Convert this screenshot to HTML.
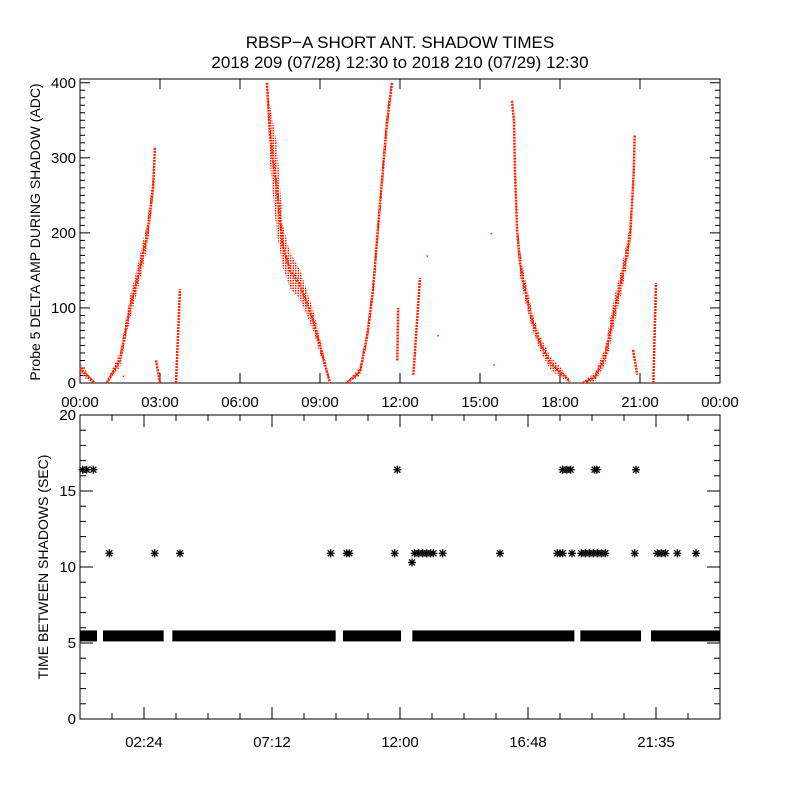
<!DOCTYPE html>
<html><head><meta charset="utf-8"><style>
body{margin:0;background:#fff}
svg text{font-family:"Liberation Sans",sans-serif;fill:#000}
</style></head><body>
<svg id="c" width="800" height="800" xmlns="http://www.w3.org/2000/svg">
<defs><pattern id="dots" width="2.5" height="2.5" patternUnits="userSpaceOnUse"><rect width="1.5" height="1.5" fill="#ff2000"/></pattern></defs>
<rect width="800" height="800" fill="#fff"/>
<text x="400" y="48" font-size="17" text-anchor="middle">RBSP−A SHORT ANT. SHADOW TIMES</text>
<text x="400" y="68" font-size="17" text-anchor="middle">2018 209 (07/28) 12:30 to 2018 210 (07/29) 12:30</text>
<g id="topPanel"></g>
<g id="botPanel"></g>
</svg>
<script>
// top panel series: hours, values, spread (value units)
const arc1H=[1.01,1.5,1.88,2.14,2.51,2.74,2.81], arc1V=[0,31,101,137,195,260,315], arc1S=[3,10,15,17,18,17,6];
const featAH=[0,0.2,0.4,0.55], featAV=[20,12,5,0], featAS=[6,6,3,1];
const seg1H=[2.85,3.0], seg1V=[30,0], seg1S=[2,1];
const spike1H=[3.6,3.75], spike1V=[0,125], spike1S=[1,1];
const arc2H=[7.01,7.125,7.39,7.61,7.875,8.25,8.74,9.11,9.375], arc2V=[400,330,257,182,150,131,84,35,0], arc2S=[2,40,60,28,24,20,14,9,3];
const arc3H=[10.01,10.5,10.76,10.99,11.17,11.36,11.51,11.7], arc3V=[0,15,61,124,204,284,347,400], arc3S=[2,6,10,15,18,18,18,8];
const spike2H=[11.9,11.93], spike2V=[30,100], spike2S=[2,2];
const spike3H=[12.5,12.75], spike3V=[11,140], spike3S=[1,1];
const arc4H=[16.2,16.275,16.31,16.39,16.5,16.69,16.95,17.25,17.63,18.0,18.375], arc4V=[376,348,284,204,160,124,84,53,27,15,2], arc4S=[1,3,8,15,18,15,12,10,9,7,2];
const arc5H=[18.86,19.31,19.69,19.875,20.06,20.25,20.44,20.625,20.7,20.76,20.8], arc5V=[0,8,35,67,100,128,160,195,240,275,330], arc5S=[2,6,12,18,18,17,17,16,16,14,4];
const seg3H=[20.74,20.9], seg3V=[44,11], seg3S=[2,1];
const spike4H=[21.5,21.6], spike4V=[0,133], spike4S=[1,1];
const topSeries=[[featAH,featAV,featAS],[arc1H,arc1V,arc1S],[seg1H,seg1V,seg1S],[spike1H,spike1V,spike1S],[arc2H,arc2V,arc2S],[arc3H,arc3V,arc3S],[spike2H,spike2V,spike2S],[spike3H,spike3V,spike3S],[arc4H,arc4V,arc4S],[arc5H,arc5V,arc5S],[seg3H,seg3V,seg3S],[spike4H,spike4V,spike4S]];
const topStrayH=[1.6,12.55,13.0,13.4,15.5,15.4], topStrayV=[10,40,170,64,25,200];
const topXTicks=["00:00","03:00","06:00","09:00","12:00","15:00","18:00","21:00","00:00"];
const topYTicks=[0,100,200,300,400];
// bottom panel
const bandStart=[0.05,0.9,3.5,9.9,12.5,18.8,21.45], bandEnd=[0.6,3.1,9.55,12.0,18.5,21.0,24.0], bandValue=[5.5,5.5,5.5,5.5,5.5,5.5,5.5];
const starH=[0.1,0.25,0.5,11.9,18.1,18.25,18.4,19.3,19.38,20.85, 1.1,2.8,3.75,9.4,10.0,10.1,11.8,12.55,12.7,12.85,13.0,13.15,13.25,13.6,15.75,17.9,18.0,18.1,18.45,18.8,18.95,19.1,19.25,19.4,19.55,19.7,20.8,21.65,21.8,21.95,22.4,23.1,12.45];
const starV=[16.4,16.4,16.4,16.4,16.4,16.4,16.4,16.4,16.4,16.4, 10.9,10.9,10.9,10.9,10.9,10.9,10.9,10.9,10.9,10.9,10.9,10.9,10.9,10.9,10.9,10.9,10.9,10.9,10.9,10.9,10.9,10.9,10.9,10.9,10.9,10.9,10.9,10.9,10.9,10.9,10.9,10.9,10.3];
const botXTicks=["02:24","07:12","12:00","16:48","21:35"];
const botYTicks=[0,5,10,15,20];

const NS="http://www.w3.org/2000/svg";
function mk(p,t,a){const e=document.createElementNS(NS,t);for(const k in a)e.setAttribute(k,a[k]);p.appendChild(e);return e;}
const L=80,R=720;
const xs=h=>L+h/24*(R-L);
const yT=v=>383-v*(304/405);
const yB=v=>719-v*(304/20);
const topG=document.getElementById('topPanel'), botG=document.getElementById('botPanel');

// top axes
let fr=mk(topG,'rect',{x:L,y:79,width:R-L,height:304,fill:'none',stroke:'#000','stroke-width':1});


for(let v=0;v<=400;v+=10){const maj=v%100===0,len=maj?10:5;
 mk(topG,'line',{x1:L,x2:L+len,y1:yT(v),y2:yT(v),stroke:'#000'});
 mk(topG,'line',{x1:R,x2:R-len,y1:yT(v),y2:yT(v),stroke:'#000'});}
topYTicks.forEach(v=>{const t=mk(topG,'text',{x:L-4,y:yT(v)+5,'font-size':15,'text-anchor':'end'});t.textContent=v;
 
 });
topXTicks.forEach((s,i)=>{const x=xs(i*3);
 mk(topG,'line',{x1:x,x2:x,y1:383,y2:373,stroke:'#000'});mk(topG,'line',{x1:x,x2:x,y1:79,y2:89,stroke:'#000'});
 const t=mk(topG,'text',{x:x,y:407,'font-size':15,'text-anchor':'middle'});t.textContent=s;
 
 });
let yl=mk(topG,'text',{x:0,y:0,'font-size':14,'text-anchor':'middle',transform:'translate(40,232) rotate(-90)'});
yl.textContent='Probe 5 DELTA AMP DURING SHADOW (ADC)';



topSeries.forEach(([H,V,S])=>{
 const up=H.map((h,i)=>xs(h)+','+yT(Math.min(405,V[i]+S[i])));
 const dn=H.map((h,i)=>xs(h)+','+yT(Math.max(0,V[i]-S[i]))).reverse();
 const band=mk(topG,'polygon',{points:up.concat(dn).join(' '),fill:'url(#dots)',stroke:'none'});
 
 
 const pl=mk(topG,'polyline',{points:H.map((h,i)=>xs(h)+','+yT(V[i])).join(' '),fill:'none',stroke:'#ff2000','stroke-width':2.5,'stroke-dasharray':'2 1'});
 
 
});
topStrayH.forEach((h,i)=>{const r=mk(topG,'rect',{x:xs(h),y:yT(topStrayV[i]),width:1.5,height:1.5,fill:'#ff2000'});
 
 });

// bottom axes
fr=mk(botG,'rect',{x:L,y:415,width:R-L,height:304,fill:'none',stroke:'#000'});


for(let v=0;v<=20;v++){const len=v%5===0?13:6;
 mk(botG,'line',{x1:L,x2:L+len,y1:yB(v),y2:yB(v),stroke:'#000'});
 mk(botG,'line',{x1:R,x2:R-len,y1:yB(v),y2:yB(v),stroke:'#000'});}
botYTicks.forEach(v=>{const t=mk(botG,'text',{x:L-4,y:yB(v)+5,'font-size':15,'text-anchor':'end'});t.textContent=v;
 
 });
for(let i=1;i<20;i++){const x=xs(i*1.2),len=i%4===2?12:6;
 mk(botG,'line',{x1:x,x2:x,y1:719,y2:719-len,stroke:'#000'});mk(botG,'line',{x1:x,x2:x,y1:415,y2:415+len,stroke:'#000'});}
botXTicks.forEach((s,i)=>{const t=mk(botG,'text',{x:xs(2.4+i*4.8),y:747,'font-size':15,'text-anchor':'middle'});t.textContent=s;
 
 });
yl=mk(botG,'text',{x:0,y:0,'font-size':14,'text-anchor':'middle',transform:'translate(48,567) rotate(-90)'});
yl.textContent='TIME BETWEEN SHADOWS (SEC)';



bandStart.forEach((s,i)=>{const x0=Math.max(L,xs(s)-1),x1=Math.min(R,xs(bandEnd[i])+1);
 const r=mk(botG,'rect',{x:x0,y:yB(bandValue[i])-5,width:x1-x0,height:11,fill:'#000'});
 
 });
starH.forEach((h,i)=>{const x=xs(h),y=yB(starV[i]);
 const g=mk(botG,'g',{stroke:'#000','stroke-width':1.3});
 
 
 mk(g,'line',{x1:x-4,x2:x+4,y1:y,y2:y});mk(g,'line',{x1:x,x2:x,y1:y-4,y2:y+4});
 mk(g,'line',{x1:x-3,x2:x+3,y1:y-3,y2:y+3});mk(g,'line',{x1:x-3,x2:x+3,y1:y+3,y2:y-3});});
</script>
</body></html>
